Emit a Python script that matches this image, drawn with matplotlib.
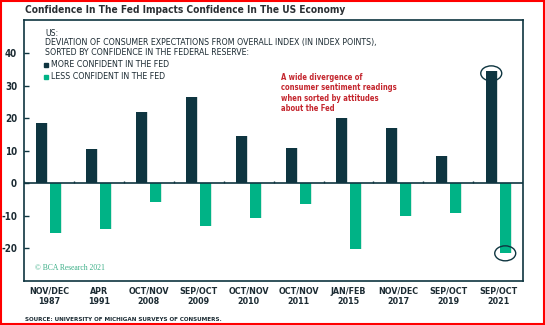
import numpy as np
import matplotlib
matplotlib.use('Agg')
import matplotlib.pyplot as plt
from matplotlib.patches import Ellipse, Rectangle

# Survey waves and deviation of consumer expectations (index points)
periods = ["NOV/DEC\n1987", "APR\n1991", "OCT/NOV\n2008", "SEP/OCT\n2009", "OCT/NOV\n2010",
           "OCT/NOV\n2011", "JAN/FEB\n2015", "NOV/DEC\n2017", "SEP/OCT\n2019", "SEP/OCT\n2021"]
more_confident = [18.5, 10.6, 22.0, 26.5, 14.6, 11.0, 20.1, 17.1, 8.3, 34.5]
less_confident = [-15.2, -14.0, -5.8, -13.0, -10.6, -6.3, -20.2, -10.0, -9.0, -21.5]
yticks = [-20, -10, 0, 10, 20, 30, 40]

DARK = "#0e3540"
GREEN = "#00b386"
TEXT = "#1c2b33"
RED = "#c4262e"

plt.rcParams['font.family'] = ['DejaVu Sans']
plt.rcParams['font.stretch'] = 'condensed'

fig = plt.figure(figsize=(5.45, 3.25), dpi=100)
ax = fig.add_axes([0.044, 0.1354, 0.916, 0.8031])

x = np.arange(len(periods))
w = 0.22
off = 0.14

# faint shadow on the right edge of each bar
ax.bar(x - off + 0.02, more_confident, w, color="#d3dbdb", zorder=1)
ax.bar(x + off + 0.02, less_confident, w, color="#d3ece3", zorder=1)
ax.bar(x - off, more_confident, w, color=DARK, zorder=2)
ax.bar(x + off, less_confident, w, color=GREEN, zorder=2)

ax.set_xlim(-0.5, len(periods) - 0.5)
ax.set_ylim(-30, 50.2)

# zero line with small ticks between groups
ax.axhline(0, color=DARK, lw=1.2, zorder=3)
bounds = np.arange(len(periods) + 1) - 0.5
ax.vlines(bounds, 0, 0.8, color=DARK, lw=1.0, zorder=3)

for s in ax.spines.values():
    s.set_color(DARK)
    s.set_linewidth(1.2)

ax.set_yticks(yticks)
ax.set_yticklabels([str(v) for v in yticks], fontsize=7, fontweight='bold', color=TEXT)
ax.tick_params(axis='y', direction='in', length=3.5, width=1, color=DARK, pad=5)
ax.set_xticks(x)
ax.set_xticklabels(periods, fontsize=6.4, fontweight='bold', color=TEXT, linespacing=1.25)
ax.tick_params(axis='x', length=0, pad=4)

# circles highlighting the latest wave
ax.add_patch(Ellipse((x[-1] - off, more_confident[-1] - 0.7), 0.42, 4.6,
                     fill=False, ec=DARK, lw=1.0, zorder=4))
ax.add_patch(Ellipse((x[-1] + off, less_confident[-1]), 0.42, 4.6,
                     fill=False, ec=DARK, lw=1.0, zorder=4))

# in-panel header and legend
header = ["US:",
          "DEVIATION OF CONSUMER EXPECTATIONS FROM OVERALL INDEX (IN INDEX POINTS),",
          "SORTED BY CONFIDENCE IN THE FEDERAL RESERVE:"]
for line, yy in zip(header, [0.950, 0.913, 0.876]):
    ax.text(0.042, yy, line, transform=ax.transAxes, fontsize=6.3, color=TEXT,
            va='center', ha='left')
for lab, col, yy in [("MORE CONFIDENT IN THE FED", DARK, 0.829),
                     ("LESS CONFIDENT IN THE FED", GREEN, 0.783)]:
    ax.add_patch(Rectangle((0.0395, yy - 0.008), 0.008, 0.016, transform=ax.transAxes,
                           color=col, clip_on=False))
    ax.text(0.054, yy, lab, transform=ax.transAxes, fontsize=6.3, color=TEXT,
            va='center', ha='left')

note = ["A wide divergence of", "consumer sentiment readings",
        "when sorted by attitudes", "about the Fed"]
for line, yy in zip(note, [0.779, 0.7395, 0.6985, 0.659]):
    ax.text(0.514, yy, line, transform=ax.transAxes, fontsize=5.5, color=RED,
            fontweight='bold', va='center', ha='left')

ax.text(0.022, 0.049, "\u00a9 BCA Research 2021", transform=ax.transAxes, fontsize=5.5,
        color="#3aae86", family=['Liberation Serif', 'DejaVu Serif'], stretch='normal',
        va='center', ha='left')

fig.text(0.046, 0.969, "Confidence In The Fed Impacts Confidence In The US Economy",
         fontsize=7.3, fontweight='bold', color="#2a2f33", va='center', ha='left')
fig.text(0.046, 0.018, "SOURCE: UNIVERSITY OF MICHIGAN SURVEYS OF CONSUMERS.",
         fontsize=4.5, fontweight='bold', color=TEXT, va='center', ha='left')

# red outline around the whole figure
fig.patches.append(Rectangle((0.001, 0.002), 0.997, 0.995, transform=fig.transFigure,
                             fill=False, ec="#ff0000", lw=1.5))

fig.savefig("out.png", dpi=100)
